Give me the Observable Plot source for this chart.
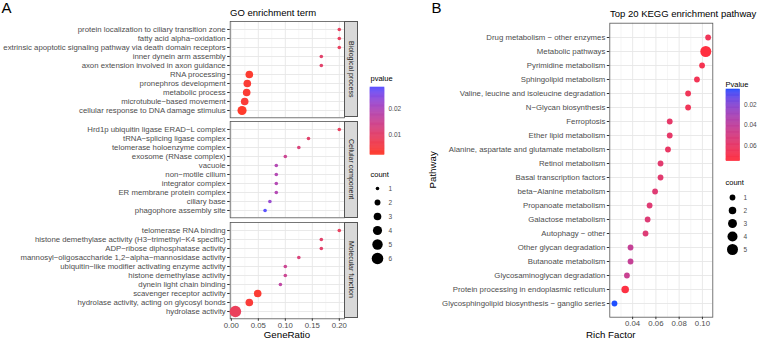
<!DOCTYPE html>
<html>
<head>
<meta charset="utf-8">
<script src="https://cdn.jsdelivr.net/npm/d3@7"></script>
<script src="https://cdn.jsdelivr.net/npm/@observablehq/plot@0.6"></script>
<style>
  body { margin: 0; background: #fff; }
  #fig { position: relative; width: 760px; height: 342px; overflow: hidden;
         font-family: "Liberation Sans", Arial, sans-serif; color: #000; }
  #fig > * { position: absolute; }
  .txt { white-space: nowrap; line-height: 1; }
  .strip { box-sizing: border-box; background: #d9d9d9; border: 0.8px solid #555;
           display: flex; align-items: center; justify-content: center; }
  .strip span { writing-mode: vertical-rl; font-size: 7px; color: #1a1a1a; white-space: nowrap; line-height: 1; }
  svg { overflow: visible; }
</style>
</head>
<body>
<div id="fig"></div>
<script>
// ---------- GO enrichment: Biological process ----------
const bpTerms = [
  "protein localization to ciliary transition zone",
  "fatty acid alpha\u2212oxidation",
  "extrinsic apoptotic signaling pathway via death domain receptors",
  "inner dynein arm assembly",
  "axon extension involved in axon guidance",
  "RNA processing",
  "pronephros development",
  "metabolic process",
  "microtubule\u2212based movement",
  "cellular response to DNA damage stimulus"
];
const bpRatio = [0.2, 0.2, 0.2, 0.1667, 0.1667, 0.0333, 0.0296, 0.0284, 0.0247, 0.0198];
const bpPvalue = [0.0085, 0.0085, 0.0085, 0.0100, 0.0100, 0.0032, 0.0036, 0.0036, 0.0040, 0.0026];
const bpCount = [1, 1, 1, 1, 1, 3, 3, 3, 3, 4];

// ---------- GO enrichment: Cellular component ----------
const ccTerms = [
  "Hrd1p ubiquitin ligase ERAD\u2212L complex",
  "tRNA\u2212splicing ligase complex",
  "telomerase holoenzyme complex",
  "exosome (RNase complex)",
  "vacuole",
  "non\u2212motile cilium",
  "integrator complex",
  "ER membrane protein complex",
  "ciliary base",
  "phagophore assembly site"
];
const ccRatio = [0.2, 0.1429, 0.125, 0.1, 0.0833, 0.0833, 0.0833, 0.0833, 0.0714, 0.0625];
const ccPvalue = [0.0085, 0.0100, 0.0120, 0.0150, 0.0190, 0.0190, 0.0190, 0.0190, 0.0225, 0.0279];
const ccCount = [1, 1, 1, 1, 1, 1, 1, 1, 1, 1];

// ---------- GO enrichment: Molecular function ----------
const mfTerms = [
  "telomerase RNA binding",
  "histone demethylase activity (H3\u2212trimethyl\u2212K4 specific)",
  "ADP\u2212ribose diphosphatase activity",
  "mannosyl\u2212oligosaccharide 1,2\u2212alpha\u2212mannosidase activity",
  "ubiquitin\u2212like modifier activating enzyme activity",
  "histone demethylase activity",
  "dynein light chain binding",
  "scavenger receptor activity",
  "hydrolase activity, acting on glycosyl bonds",
  "hydrolase activity"
];
const mfRatio = [0.2, 0.1667, 0.1667, 0.125, 0.1, 0.1, 0.0909, 0.0488, 0.0333, 0.0075];
const mfPvalue = [0.0085, 0.0100, 0.0100, 0.0120, 0.0150, 0.0150, 0.0170, 0.0034, 0.0040, 0.0080];
const mfCount = [1, 1, 1, 1, 1, 1, 1, 3, 3, 6];

const goFacets = ["Biological process", "Cellular component", "Molecular function"];
const goRatioTicks = [0, 0.05, 0.10, 0.15, 0.20];
const goRatioMinor = [0.025, 0.075, 0.125, 0.175];
const goPTicks = [0.01, 0.02];
const goCountBreaks = [1, 2, 3, 4, 5, 6];

// ---------- KEGG top 20 pathways ----------
const keggPathways = [
  "Drug metabolism \u2212 other enzymes",
  "Metabolic pathways",
  "Pyrimidine metabolism",
  "Sphingolipid metabolism",
  "Valine, leucine and isoleucine degradation",
  "N\u2212Glycan biosynthesis",
  "Ferroptosis",
  "Ether lipid metabolism",
  "Alanine, aspartate and glutamate metabolism",
  "Retinol metabolism",
  "Basal transcription factors",
  "beta\u2212Alanine metabolism",
  "Propanoate metabolism",
  "Galactose metabolism",
  "Autophagy \u2212 other",
  "Other glycan degradation",
  "Butanoate metabolism",
  "Glycosaminoglycan degradation",
  "Protein processing in endoplasmic reticulum",
  "Glycosphingolipid biosynthesis \u2212 ganglio series"
];
const keggRich = [0.1049, 0.1029, 0.0997, 0.0953, 0.0877, 0.0877, 0.0719, 0.0719, 0.0704, 0.0640,
                  0.0640, 0.0593, 0.0546, 0.0529, 0.0511, 0.0382, 0.0382, 0.0351, 0.0336, 0.0244];
const keggPvalue = [0.066, 0.075, 0.069, 0.067, 0.066, 0.066, 0.060, 0.060, 0.062, 0.058,
                    0.058, 0.056, 0.056, 0.055, 0.055, 0.043, 0.043, 0.045, 0.074, 0.005];
const keggCount = [1, 5, 1, 1, 1, 1, 1, 1, 1, 1, 1, 1, 1, 1, 1, 1, 1, 1, 2, 1];
const keggRichTicks = [0.04, 0.06, 0.08, 0.10];
const keggRichMinor = [0.03, 0.05, 0.07, 0.09];
const keggPTicks = [0.02, 0.04, 0.06];
const keggCountBreaks = [1, 2, 3, 4, 5];

// ---------- shared helpers ----------
const FONT = "\"Liberation Sans\", Arial, sans-serif";
const fig = document.getElementById("fig");

function place(node, left, top) {
  node.style.left = left + "px";
  node.style.top = top + "px";
  fig.appendChild(node);
  return node;
}
function label(text, left, top, size, extra = {}) {
  const d = document.createElement("div");
  d.className = "txt";
  d.textContent = text;
  d.style.fontSize = size + "px";
  Object.assign(d.style, extra);
  return place(d, left, top);
}
// ggplot-like continuous expansion (5% on each side)
function expand(values) {
  const [lo, hi] = d3.extent(values);
  const pad = (hi - lo) * 0.05;
  return [lo - pad, hi + pad];
}
const plotStyle = {fontFamily: FONT, fontSize: "7.8px", color: "#4d4d4d", background: "transparent", overflow: "visible"};

// ---------- GO scales ----------
const goAllRatio = [...bpRatio, ...ccRatio, ...mfRatio];
const goAllP = [...bpPvalue, ...ccPvalue, ...mfPvalue];
const goX = expand(goAllRatio);
const goColor = {type: "linear", domain: d3.extent(goAllP), range: ["#ff3b2b", "#5a52ff"], interpolate: "lab"};
const goR = {type: "sqrt", domain: [1, 6], range: [1.8, 5.8]};

const panelH = 96.3;
const panelTops = [21, 121.35, 221.7];
const goLeft = 229.7, goRight = 344;

function goPanel(terms, ratio, pvalue, count, showX) {
  const rows = terms.map((t, i) => ({term: t, ratio: ratio[i], p: pvalue[i], count: count[i]}));
  return Plot.plot({
    width: goRight, height: panelH + (showX ? 24 : 0),
    marginLeft: goLeft, marginRight: 0, marginTop: 0, marginBottom: showX ? 24 : 0,
    style: plotStyle,
    x: {domain: goX, axis: null},
    y: {type: "point", domain: terms, padding: 0.6, axis: null},
    color: goColor,
    r: goR,
    marks: [
      Plot.gridX(goRatioMinor, {stroke: "#ededed", strokeOpacity: 1, strokeWidth: 0.5}),
      Plot.gridX(goRatioTicks, {stroke: "#e6e6e6", strokeOpacity: 1, strokeWidth: 0.9}),
      Plot.gridY(terms, {stroke: "#e6e6e6", strokeOpacity: 1, strokeWidth: 0.9}),
      Plot.frame({stroke: "#555", strokeWidth: 0.8}),
      Plot.axisY(terms, {tickSize: 2.5, tickPadding: 2, label: null, stroke: "#333"}),
      showX ? Plot.axisX(goRatioTicks, {tickSize: 2.5, tickPadding: 1, label: null, stroke: "#333", tickFormat: d3.format(".2f")}) : null,
      Plot.dot(rows, {x: "ratio", y: "term", r: "count", fill: "p"})
    ]
  });
}

const goSets = [
  [bpTerms, bpRatio, bpPvalue, bpCount],
  [ccTerms, ccRatio, ccPvalue, ccCount],
  [mfTerms, mfRatio, mfPvalue, mfCount]
];
goSets.forEach((s, i) => {
  place(goPanel(...s, i === 2), 0, panelTops[i]);
  const strip = document.createElement("div");
  strip.className = "strip";
  strip.style.width = "14.3px";
  strip.style.height = panelH + "px";
  const sp = document.createElement("span");
  sp.textContent = goFacets[i];
  strip.appendChild(sp);
  place(strip, goRight, panelTops[i]);
});

// ---------- KEGG scales and panel ----------
const keggX = expand(keggRich);
const keggColor = {type: "linear", domain: d3.extent(keggPvalue), range: ["#1f4fff", "#ff3040"], interpolate: "lab"};
const keggR = {type: "sqrt", domain: [1, 5], range: [2.9, 5.5]};
const keggRows = keggPathways.map((t, i) => ({pathway: t, rich: keggRich[i], p: keggPvalue[i], count: keggCount[i]}));

place(Plot.plot({
  width: 333, height: 342,
  marginLeft: 229.3, marginRight: 0.7, marginTop: 22.7, marginBottom: 25.3,
  style: plotStyle,
  x: {domain: keggX, axis: null},
  y: {type: "point", domain: keggPathways, padding: 0.6, axis: null},
  color: keggColor,
  r: keggR,
  marks: [
    Plot.gridX(keggRichMinor, {stroke: "#ededed", strokeOpacity: 1, strokeWidth: 0.5}),
    Plot.gridX(keggRichTicks, {stroke: "#e6e6e6", strokeOpacity: 1, strokeWidth: 0.9}),
    Plot.gridY(keggPathways, {stroke: "#e6e6e6", strokeOpacity: 1, strokeWidth: 0.9}),
    Plot.frame({stroke: "#555", strokeWidth: 0.8}),
    Plot.axisY(keggPathways, {tickSize: 2.5, tickPadding: 2, label: null, stroke: "#333"}),
    Plot.axisX(keggRichTicks, {tickSize: 2.5, tickPadding: 1, label: null, stroke: "#333", tickFormat: d3.format(".2f")}),
    Plot.dot(keggRows, {x: "rich", y: "pathway", r: "count", fill: "p"})
  ]
}), 380, 0);

// ---------- legends ----------
function colorBar(colorOpts, ticks, reverse, w, h) {
  const [lo, hi] = colorOpts.domain;
  const n = 60, step = (hi - lo) / n;
  const slices = d3.range(n).map(i => lo + i * step);
  return Plot.plot({
    width: w + 24, height: h,
    marginLeft: 0, marginRight: 24, marginTop: 0, marginBottom: 0,
    style: {...plotStyle, fontSize: "6.5px"},
    y: {domain: [lo, hi], reverse, axis: null},
    color: colorOpts,
    marks: [
      Plot.rect(slices, {y1: d => d, y2: d => d + step, fill: d => d + step / 2,
                         stroke: d => d + step / 2, strokeWidth: 0.6, inset: 0}),
      Plot.axisY(ticks, {anchor: "right", tickSize: 0, tickPadding: 4, label: null, tickFormat: d3.format(".2f")})
    ]
  });
}
function sizeLegend(rOpts, breaks, spacing) {
  const pad = 7;
  return Plot.plot({
    width: 28, height: spacing * (breaks.length - 1) + 2 * pad,
    marginLeft: 0, marginRight: 14, marginTop: pad, marginBottom: pad,
    style: {...plotStyle, fontSize: "6.5px"},
    y: {type: "point", domain: breaks, padding: 0, axis: null},
    r: rOpts,
    marks: [
      Plot.dot(breaks, {y: d => d, r: d => d, fill: "black"}),
      Plot.axisY(breaks, {anchor: "right", tickSize: 0, tickPadding: 4, label: null})
    ]
  });
}

// GO legends
label("pvalue", 370.5, 75.3, 7.5);
place(colorBar(goColor, goPTicks, false, 14, 67.3), 370, 86.7);
label("count", 370.5, 171.3, 7.5);
place(sizeLegend(goR, goCountBreaks, 14), 370, 187.7 - 7);

// KEGG legends
label("Pvalue", 725.5, 81.3, 7.5);
place(colorBar(keggColor, keggPTicks, true, 13.6, 71.7), 725.7, 89);
label("count", 725.5, 179, 7.5);
place(sizeLegend(keggR, keggCountBreaks, 13.4), 725.3, 196.3 - 7);

// ---------- titles and axis titles ----------
label("A", 1.5, 0, 15);
label("B", 431.5, 0, 15);
label("GO enrichment term", 230, 8, 9.5);
label("Top 20 KEGG enrichment pathway", 610, 8.5, 9.5);
label("GeneRatio", 0, 330, 9.7, {width: "574px", textAlign: "center"});
label("Rich Factor", 610.8 - 100, 330, 9.7, {width: "200px", textAlign: "center"});
label("Pathway", 433 - 50, 169.7 - 4.85, 9.7, {width: "100px", textAlign: "center", transform: "rotate(-90deg)"});
</script>
</body>
</html>
